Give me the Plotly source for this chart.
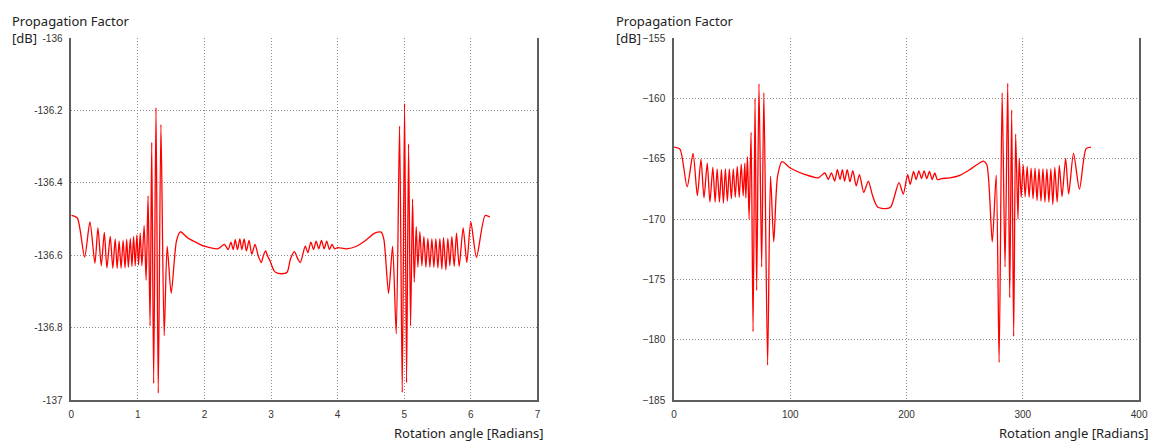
import plotly.graph_objects as go

# ---------------- data ----------------
# Left panel: angle in radians
x_left = [0.0, 0.09, 0.20, 0.28, 0.355, 0.40, 0.45, 0.496, 0.535, 0.585, 0.624, 0.659, 0.689, 0.718,
          0.748, 0.778, 0.807, 0.832, 0.857, 0.886, 0.911, 0.936, 0.960, 0.985, 1.010, 1.035, 1.060,
          1.094, 1.124, 1.153, 1.183, 1.208, 1.237, 1.272, 1.306, 1.346, 1.395, 1.440, 1.500, 1.580,
          1.638, 1.75, 1.85, 1.944, 2.0, 2.2, 2.298, 2.357, 2.397, 2.432, 2.462, 2.496, 2.531, 2.561,
          2.596, 2.630, 2.670, 2.710, 2.759, 2.809, 2.854, 2.883, 2.918, 2.953, 2.983, 3.042, 3.067,
          3.15, 3.241, 3.290, 3.350, 3.404, 3.439, 3.514, 3.553, 3.598, 3.638, 3.677, 3.717, 3.757,
          3.797, 3.836, 3.876, 3.916, 3.955, 4.0, 4.134, 4.283, 4.432, 4.556, 4.655, 4.695, 4.765,
          4.825, 4.88, 4.93, 4.97, 5.005, 5.035, 5.065, 5.095, 5.125, 5.15, 5.18, 5.205, 5.235, 5.265,
          5.295, 5.325, 5.355, 5.385, 5.415, 5.445, 5.475, 5.505, 5.535, 5.565, 5.59, 5.625, 5.655,
          5.685, 5.715, 5.75, 5.785, 5.825, 5.885, 5.94, 6.0, 6.085, 6.215, 6.285]
y_left = [-136.490, -136.497, -136.605, -136.508, -136.622, -136.524, -136.629, -136.537, -136.635,
          -136.548, -136.636, -136.555, -136.636, -136.560, -136.636, -136.559, -136.635, -136.556,
          -136.633, -136.553, -136.631, -136.548, -136.629, -136.544, -136.627, -136.539, -136.629,
          -136.518, -136.669, -136.436, -136.795, -136.288, -136.954, -136.192, -136.981, -136.239,
          -136.822, -136.575, -136.705, -136.560, -136.535, -136.552, -136.562, -136.571, -136.575,
          -136.582, -136.570, -136.584, -136.564, -136.584, -136.557, -136.584, -136.555, -136.584,
          -136.555, -136.588, -136.559, -136.597, -136.570, -136.602, -136.620, -136.602, -136.588,
          -136.604, -136.615, -136.642, -136.647, -136.651, -136.647, -136.611, -136.590, -136.611,
          -136.620, -136.575, -136.593, -136.564, -136.584, -136.561, -136.582, -136.559, -136.582,
          -136.561, -136.584, -136.570, -136.582, -136.579, -136.582, -136.575, -136.557, -136.539,
          -136.536, -136.557, -136.705, -136.575, -136.817, -136.243, -136.979, -136.180, -136.952,
          -136.292, -136.795, -136.445, -136.674, -136.521, -136.633, -136.535, -136.629, -136.548,
          -136.633, -136.553, -136.633, -136.554, -136.633, -136.554, -136.635, -136.554, -136.638,
          -136.551, -136.640, -136.553, -136.629, -136.548, -136.631, -136.539, -136.631, -136.524,
          -136.620, -136.508, -136.606, -136.490, -136.494]

# Right panel: angle (0..360)
x_right = [0, 5.1, 11.3, 16.4, 20.1, 23.2, 25.8, 28.6, 30.9, 33.4, 35.4, 37.1, 39.1, 40.8, 42.5, 44.2,
           45.9, 47.6, 49.3, 51.0, 52.7, 54.4, 56.1, 57.8, 59.5, 60.9, 61.8, 63.2, 64.6, 66.3, 68.0,
           69.7, 71.1, 73.1, 75.4, 77.3, 80.5, 83.0, 85.8, 89.0, 92.9, 100, 112.7, 124.1, 129.7, 132.6,
           135.4, 138.2, 140.5, 142.8, 144.8, 146.7, 149.0, 151.3, 153.8, 156.7, 159.5, 163.2, 167.1,
           170.8, 175.1, 182.2, 186.4, 193.5, 197.2, 200.9, 203.2, 206.0, 208.3, 210.6, 212.9, 215.1,
           217.4, 219.7, 222.0, 224.3, 226.5, 230.2, 237.3, 245.8, 254.3, 261.4, 266.2, 269.1, 273.7,
           277.1, 279.6, 282.2, 284.7, 287.0, 288.7, 290.4, 292.1, 293.8, 295.8, 296.9, 298.6, 300.3,
           302.0, 303.7, 305.4, 307.1, 308.8, 310.5, 312.2, 313.9, 315.6, 317.3, 319.0, 320.7, 322.4,
           324.1, 325.8, 327.5, 329.5, 331.4, 333.7, 336.8, 339.4, 343.6, 348.7, 354.4, 358.6]
y_right = [-164.03, -164.2, -167.33, -164.56, -168.06, -165.05, -168.24, -165.37, -168.59, -165.72,
           -168.59, -165.83, -168.59, -165.91, -168.67, -165.83, -168.51, -165.85, -168.32, -165.83,
           -168.19, -165.64, -168.19, -165.45, -168.06, -165.37, -168.24, -164.83, -170.0, -162.82,
           -179.33, -160.0, -175.92, -158.79, -173.96, -159.54, -182.1, -166.44, -171.89, -166.5,
           -165.24, -165.77, -166.31, -166.58, -166.18, -166.71, -166.18, -166.85, -165.91, -166.71,
           -165.91, -166.85, -165.91, -166.90, -165.99, -167.25, -166.31, -167.79, -166.85, -168.06,
           -169.0, -169.13, -169.0, -166.98, -167.92, -166.32, -167.12, -166.05, -166.72, -166.0,
           -166.64, -166.0, -166.64, -166.05, -166.72, -166.18, -166.72, -166.64, -166.58, -166.37,
           -165.91, -165.43, -165.19, -165.51, -171.89, -166.36, -181.88, -159.54, -173.96, -158.74,
           -176.51, -160.94, -179.73, -162.95, -170.01, -164.97, -168.19, -165.5, -168.14, -165.64,
           -168.19, -165.77, -168.32, -165.77, -168.46, -165.83, -168.51, -165.83, -168.59, -165.83,
           -168.59, -165.83, -168.78, -165.72, -168.59, -165.56, -168.14, -164.97, -167.92, -164.56,
           -167.52, -164.16, -164.03]

left_yticks = [-137, -136.8, -136.6, -136.4, -136.2, -136]
left_yticktext = ["-137", "-136.8", "-136.6", "-136.4", "-136.2", "-136"]
left_xticks = [0, 1, 2, 3, 4, 5, 6, 7]
right_yticks = [-185, -180, -175, -170, -165, -160, -155]
right_xticks = [0, 100, 200, 300, 400]

y_title = "Propagation Factor"
y_unit = "[dB]"
x_title = "Rotation angle [Radians]"

# ---------------- figure ----------------
W, H = 1160, 445
LINE = "#ff0000"
GRID = "#8c8c8c"
AXIS = "#5e5e5e"
TICKFONT = dict(family="Liberation Sans, Arial, sans-serif", size=10, color="#333333")
TITLEFONT = dict(family="Noto Sans, DejaVu Sans, sans-serif", size=13, color="#222222")

def px_x(p):
    return p / W

def px_y(p):
    return 1 - p / H

fig = go.Figure()
fig.add_trace(go.Scatter(x=x_left, y=y_left, mode="lines",
                         line=dict(color=LINE, width=1.3, shape="spline", smoothing=0.7),
                         xaxis="x", yaxis="y", showlegend=False))
fig.add_trace(go.Scatter(x=x_right, y=y_right, mode="lines",
                         line=dict(color=LINE, width=1.3, shape="spline", smoothing=0.7),
                         xaxis="x2", yaxis="y2", showlegend=False))

common_x = dict(showgrid=True, gridcolor=GRID, griddash="1px,2px", gridwidth=1, zeroline=False,
                showline=True, linecolor=AXIS, linewidth=1.5, ticks="", tickfont=TICKFONT,
                ticklabelstandoff=4)
common_y = dict(showgrid=True, gridcolor=GRID, griddash="1px,2px", gridwidth=1, zeroline=False,
                showline=True, mirror=True, linecolor=AXIS, linewidth=1.5, ticks="",
                tickfont=TICKFONT, ticklabelstandoff=5)

fig.update_layout(
    width=W, height=H,
    margin=dict(l=0, r=0, t=0, b=0),
    paper_bgcolor="white", plot_bgcolor="white",
    xaxis=dict(domain=[px_x(69), px_x(540)], range=[0, 7], tickvals=left_xticks, anchor="y",
               **common_x),
    yaxis=dict(domain=[px_y(405), px_y(33)], range=[-137, -136], tickvals=left_yticks,
               ticktext=left_yticktext, anchor="x", **common_y),
    xaxis2=dict(domain=[px_x(678), px_x(1148)], range=[0, 400], tickvals=right_xticks, anchor="y2",
                **common_x),
    yaxis2=dict(domain=[px_y(405), px_y(33)], range=[-185, -155], tickvals=right_yticks,
                anchor="x2", **common_y),
)

annotations = []
for xl in (7, 617):
    annotations.append(dict(text=y_title, x=px_x(xl), y=px_y(15), xref="paper", yref="paper",
                            xanchor="left", yanchor="middle", showarrow=False, font=TITLEFONT))
    annotations.append(dict(text=y_unit, x=px_x(xl), y=px_y(33), xref="paper", yref="paper",
                            xanchor="left", yanchor="middle", showarrow=False, font=TITLEFONT))
for xr in (549, 1160):
    annotations.append(dict(text=x_title, x=px_x(xr), y=px_y(439), xref="paper", yref="paper",
                            xanchor="right", yanchor="middle", showarrow=False, font=TITLEFONT))
fig.update_layout(annotations=annotations)

fig.write_html("out.html")
